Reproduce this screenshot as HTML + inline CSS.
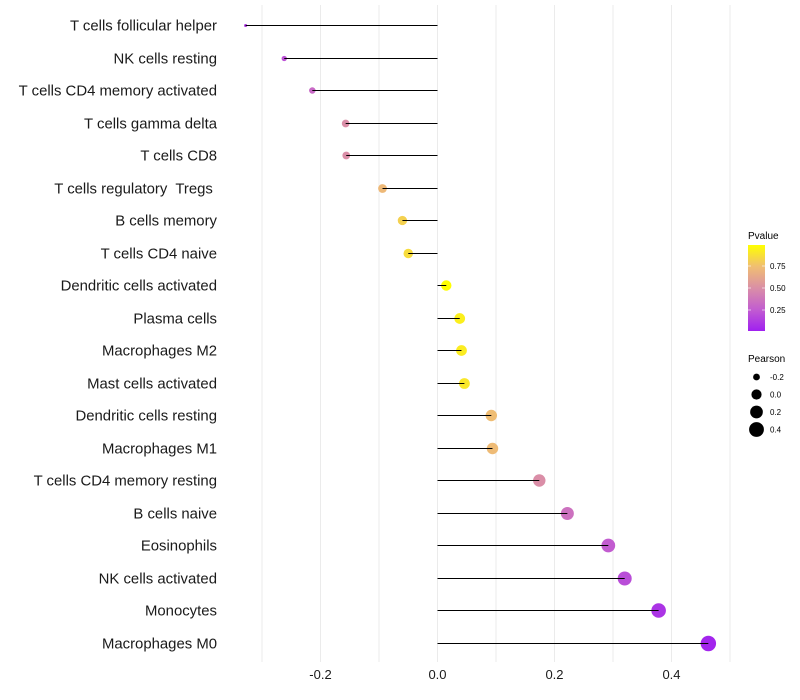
<!DOCTYPE html>
<html><head><meta charset="utf-8"><style>
body{margin:0;background:#fff;}
svg{display:block;font-family:"Liberation Sans",sans-serif;}
text{white-space:pre;}
</style></head><body>
<svg id="chart" width="800" height="700">
<defs><linearGradient id="pg" x1="0" y1="1" x2="0" y2="0">
<stop offset="0" stop-color="#A020F0"/><stop offset="0.25" stop-color="#C25DD0"/><stop offset="0.5" stop-color="#DA8FA6"/><stop offset="0.75" stop-color="#F0BE72"/><stop offset="1" stop-color="#FFFF00"/></linearGradient></defs>
<g id="grid"></g>
<g id="marks"></g>
<g id="ylab"></g>
<g id="xlab"></g>
<g>
<text x="748" y="239" font-size="10" fill="#000">Pvalue</text>
<rect x="748" y="245" width="17" height="86" fill="url(#pg)"/>
<line x1="748" x2="751" y1="266" y2="266" stroke="#fff" opacity="0.6"/><line x1="762" x2="765" y1="266" y2="266" stroke="#fff" opacity="0.6"/>
<line x1="748" x2="751" y1="288" y2="288" stroke="#fff" opacity="0.6"/><line x1="762" x2="765" y1="288" y2="288" stroke="#fff" opacity="0.6"/>
<line x1="748" x2="751" y1="310" y2="310" stroke="#fff" opacity="0.6"/><line x1="762" x2="765" y1="310" y2="310" stroke="#fff" opacity="0.6"/>
<text x="770" y="269" font-size="8">0.75</text>
<text x="770" y="291" font-size="8">0.50</text>
<text x="770" y="313" font-size="8">0.25</text>
</g>
<g id="sizeleg">
<text x="748" y="362" font-size="10">Pearson</text>
</g>
</svg>
<script>
const categories=["T cells follicular helper","NK cells resting","T cells CD4 memory activated","T cells gamma delta","T cells CD8","T cells regulatory  Tregs ","B cells memory","T cells CD4 naive","Dendritic cells activated","Plasma cells","Macrophages M2","Mast cells activated","Dendritic cells resting","Macrophages M1","T cells CD4 memory resting","B cells naive","Eosinophils","NK cells activated","Monocytes","Macrophages M0"];
const pearson=[-0.328,-0.262,-0.214,-0.157,-0.156,-0.094,-0.060,-0.050,0.015,0.038,0.041,0.046,0.092,0.094,0.174,0.222,0.292,0.320,0.378,0.463];
const pvalue=[0.12,0.22,0.32,0.50,0.50,0.72,0.82,0.86,0.99,0.93,0.92,0.90,0.74,0.73,0.50,0.36,0.26,0.20,0.10,0.04];
const xTicks=[-0.2,0,0.2,0.4];
const xTickLabels=["-0.2","0.0","0.2","0.4"];
const xMinor=[-0.3,-0.1,0.1,0.3,0.5];
const sizeLegend=[-0.2,0,0.2,0.4];
const sizeLegendLabels=["-0.2","0.0","0.2","0.4"];
const NS="http://www.w3.org/2000/svg";
const x=v=>437.5+v*585;
const y=i=>25+i*32.5;
const r=v=>Math.sqrt(Math.max(1,2.25+72*(v+0.33)));
function hex(h){return [1,3,5].map(k=>parseInt(h.substr(k,2),16));}
const stops=["#A020F0","#C25DD0","#DA8FA6","#F0BE72","#FFFF00"].map(hex);
function col(p){let t=(p-0.02)/0.97;t=Math.max(0,Math.min(1,t))*4;let k=Math.min(3,Math.floor(t)),u=t-k;const a=stops[k],b=stops[k+1];return "rgb("+a.map((c,j)=>Math.round(c+(b[j]-c)*u)).join(",")+")";}
function mk(tag,attrs,parent){const e=document.createElementNS(NS,tag);for(const k in attrs)e.setAttribute(k,attrs[k]);parent.appendChild(e);return e;}
const grid=document.getElementById('grid'),marks=document.getElementById('marks'),ylab=document.getElementById('ylab'),xlab=document.getElementById('xlab'),sl=document.getElementById('sizeleg');
xTicks.concat(xMinor).forEach(v=>{const l=mk('line',{x1:x(v),x2:x(v),y1:5,y2:662,stroke:'#ebebeb','stroke-width':1},grid);

});
xTicks.forEach((v,i)=>{const t=mk('text',{x:x(v),y:679,'font-size':13,'text-anchor':'middle',fill:'#1a1a1a'},xlab);t.textContent=xTickLabels[i];

});
categories.forEach((c,i)=>{
const yy=Math.round(y(i))+0.5;
const t=mk('text',{x:217,y:yy+5,'font-size':14.9,'text-anchor':'end',fill:'#1a1a1a'},ylab);t.textContent=c;


const p=mk('circle',{cx:x(pearson[i]),cy:yy,r:r(pearson[i]),fill:col(pvalue[i])},marks);


const s=mk('line',{x1:x(0),x2:x(pearson[i]),y1:yy,y2:yy,stroke:'#000','stroke-width':1},marks);


});
sizeLegend.forEach((v,i)=>{const cy=377+i*17.5;const c=mk('circle',{cx:756.5,cy:cy,r:r(v),fill:'#000'},sl);


const t=mk('text',{x:770,y:cy+3,'font-size':8},sl);t.textContent=sizeLegendLabels[i];

});
</script>
</body></html>
